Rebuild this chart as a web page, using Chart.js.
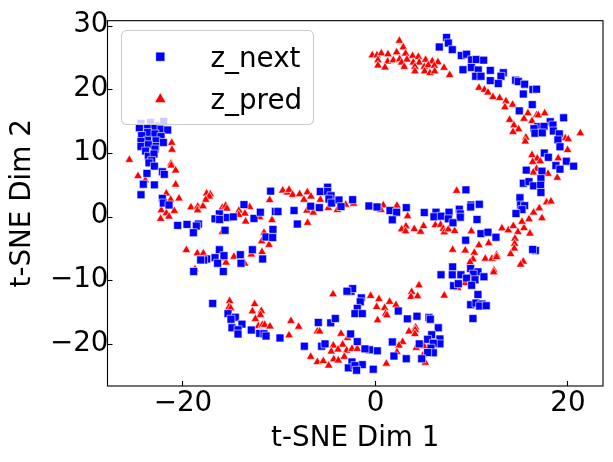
<!DOCTYPE html>
<html>
<head>
<meta charset="utf-8">
<script src="https://cdn.jsdelivr.net/npm/chart.js@4"></script>
<style>
  html, body { margin: 0; padding: 0; background: #fff; }
  canvas { display: block; }
</style>
</head>
<body>
<canvas id="chart" width="613" height="462"></canvas>
<script>
const xTickValues = [-20, 0, 20];
const yTickValues = [-20, -10, 0, 10, 20, 30];
const xTitle = 't-SNE Dim 1';
const yTitle = 't-SNE Dim 2';
const seriesNames = ['z_next', 'z_pred'];

// values
const zNext = [
  [-24.36,14.73],[-23.36,14.88],[-22.49,14.31],[-22,15.04],[-24.53,14.05],[-23.67,13.95],[-22.91,13.95],[-22.28,13.8],
  [-21.59,13.69],[-23.67,13.28],[-22.91,13.07],[-24.29,12.81],[-22.28,12.66],[-23.67,12.09],[-22.8,11.99],[-24.36,11.88],
  [-22.04,11.73],[-24.36,11.11],[-22.84,11.11],[-23.6,11.37],[-23.88,10.38],[-22.91,10.69],[-23.6,9.56],[-23.01,9.92],
  [-23.25,8.89],[-23.53,8.52],[-22.97,8.01],[-22.14,7.13],
  [-24.36,3.52],[-24.12,5.17],[-22.97,5.07],[-23.74,6.88],[-21.94,6.72],[-22.14,2.95],[-22.04,2.22],[-21.45,1.92],
  [-20.55,-1.29],[-19.58,-1.13],[-18.4,-1.08],[-18.61,-1.39],[-18.92,-2.43],[-16.22,0.52],[-16.67,-0.26],[-16.19,-0.36],
  [-15.39,-0.05],[-14.77,0.05],[-15.63,-2.06],[-13.66,1.97],[-12.62,-0.2],[-11.96,0.78],[-10.4,0.88],[-10.13,0.88],
  [-10.89,4.09],[-8.46,1.04],[-6.73,1.71],[-5.83,1.5],[-5.73,4.03],[-4.97,4.71],[-4.97,4.03],[-4.62,3.36],[-4.83,2.85],
  [-4.55,2.22],[-3.79,2.69],[-3.58,1.66],[-2.37,2.74],[-8.12,-1.08],[-10.65,-1.91],[-11.37,-3.1],[-10.68,-3.2],
  [-16.22,-5.11],[-15.74,-6.04],[-16.67,-6.35],[-17.54,-6.56],[-17.85,-6.71],[-18.16,-6.71],[-16.4,-7.23],[-15.81,-8.52],
  [-18.89,-8.52],[-14.04,-5.89],[-13.97,-7.23],[-12.79,-5.11],[-11.72,-6.56],
  [-16.91,-13.54],[-15.32,-15.14],[-14.56,-15.71],[-15.01,-16.02],[-13.87,-16.79],[-14.91,-17.36],[-14.28,-17.67],
  [-14.28,-18.34],[-12.9,-17.72],[-12.03,-18.24],[-11.58,-18.29],[-11.37,-18.65],[-9.92,-18.96],[-7.39,-20.25],
  [-5.94,-16.53],[-4.65,-16.59],[-4.17,-15.91],[-2.58,-18.34],[-5.59,-20.25],[-5.24,-19.89],[-2.44,-22.73],[-2.82,-23.66],
  [-2.54,-11.62],[-2.37,-11.21],[-2.96,-11.62],
  [7.39,28.21],[7.57,27.34],[6.63,26.72],[7.98,26.3],[8.92,25.37],[9.47,25.58],[9.99,24.7],[10.48,24.75],[11.24,24.65],
  [9.96,23.51],[9.09,23.15],[10.68,23.1],[11.93,23.05],[10.41,22.12],[10.96,22.12],[13.28,22.68],[13.04,22.12],[11.93,21.44],
  [12.76,20.98],[14.56,21.5],[14.84,21.29],[15.5,20.88],[16.36,20.05],[16.74,20.1],[15.36,19.33],[16.29,17.67],[14.94,16.69],
  [19.55,15.6],[18.16,14.98],[18.44,14.47],[16.85,14.21],[17.51,14.26],[16.47,13.9],[18.48,13.54],[19.1,13.07],[16.57,13.18],
  [17.33,13.23],[18.96,12.14],[19.17,11.06],[17.54,10.07],[17.96,9.4],[19.83,8.78],[18.75,8.11],[19.17,7.54],[20.59,8.01],
  [15.67,7.39],[17.3,7.23],
  [17.19,6.05],[15.36,5.33],[15.95,5.58],[16.43,4.91],[17.16,5.02],[17.19,3.88],[9.4,4.29],[15.01,3.05],[15.08,1.92],
  [15.5,1.81],[15.22,1.19],[14.6,0.57],[-0.68,1.76],[0.16,1.61],[1.51,1.04],[2.2,0.78],[1.75,-0.41],[3.2,1.5],[5.07,0.73],
  [6.29,0.78],[6.08,0.06],[6.84,0.16],[7.64,0.78],[8.71,1.24],[8.81,0.52],[8.81,0],[7.57,-0.26],[8.05,-0.88],[9.92,1.92],
  [9.89,1.61],[10.79,2.02],[10.55,-0.36],[10.96,-2.58],[11.69,-2.37],[12.52,-3.15],[9.37,-3.61],[16.61,-5.22],[16.33,-5.06],
  [8.02,-7.8],[6.81,-9.04],[7.98,-9.04],[8.88,-9.04],[9.89,-8.06],[10.65,-8.58],[10.16,-8.94],[9.47,-9.56],[11.27,-9.35],
  [10.34,-9.82],[8.12,-10.75],[8.61,-10.44],[9.99,-10.69],[10.65,-12.14],[9.89,-13.74],[10.44,-13.48],[11.06,-13.64],
  [10.82,-13.95],[11.51,-13.9],[10.13,-15.91],
  [-1.47,-12.66],[-1.58,-13.28],[-1.89,-14.31],[-2.13,-15.14],[-1.37,-15.14],[2.37,-14.72],[3.31,-15.96],[4.31,-15.55],
  [5.56,-15.76],[5.7,-16.02],[6.53,-17.36],[5.84,-18.45],[6.7,-19.12],[5.42,-19.17],[6.7,-19.89],[6.01,-19.79],[4.55,-19.89],
  [5.77,-20.56],[6.01,-21.29],[5.42,-21.24],[1.92,-21.8],[1.75,-19.58],[3.2,-22.22],[4.8,-22.22],[0.19,-20.98],[-0.61,-20.82],
  [-1.09,-20.67],[-1.89,-19.53],[-1.37,-23.15],[-2.13,-23.3],[-1.96,-24.03],[-0.23,-23.87]
];

const zPred = [
  [-25.57,9],[-21.17,11.68],[-21.14,10.59],[-21.24,8.42],[-21.21,8.11],[-20.76,7.34],
  [-24.67,6.46],[-23.91,5.79],[-20.76,5.12],[-21.73,3.72],[-21.28,2.74],[-20.41,2.95],[-17.54,3.72],[-17.16,3.62],
  [-17.26,3.26],[-17.64,2.74],[-19.17,1.55],[-18.47,1.66],[-18.47,1.09],[-17.92,1.71],[-22.25,1.09],[-20.9,0.99],
  [-21.73,0.62],[-21.45,0.11],[-22.32,-0.26],[-15.91,1.5],[-15.56,1.81],[-15.43,1.35],[-14.18,1.04],[-13.56,0.57],
  [-14.21,0.37],[-13.07,1.61],[-13.49,-0.67],[-12.03,0],[-15.91,-2.32],[-11.58,-2.43],[-11.82,-3.77],[-11.06,-4.34],
  [-10.75,-0.46],[-9.64,4.19],[-9.16,3.88],[-8.98,4.29],[-8.6,3.52],[-7.88,3.62],[-7.43,2.74],[-7.08,3.93],[-6.7,3.26],
  [-5.73,2.74],[-7.12,1.04],[-6.46,0.73],[-4.9,1.45],[-3.96,1.14],[-3.1,1.97],[-2.27,2.12],[-7.05,-0.88],[-10.99,2.69],
  [-19.65,-5.16],[-18.51,-5.68],[-17.88,-5.68],[-18.75,-8.16],[-15.81,-6.46],[-15.53,-7.13],[-14.7,-6.2],[-13.59,-7.28],
  [-12.9,-5.84],[-11.79,-5.47],[-15.15,-13.17],[-15.22,-14.1],[-15.04,-14.31],[-12.55,-13.64],[-12.79,-14.78],[-11.86,-14.72],
  [-11.96,-15.34],[-12.48,-15.97],[-12.17,-17.1],[-11.75,-16.9],[-11.51,-16.9],[-10.96,-17.15],[-8.78,-16.28],[-7.98,-17.2],
  [-8.98,-18.55],[-6.04,-17.93],[-5.8,-17.93],[-4.41,-12.09],[-3.58,-18.29],[-2.89,-18.96],[-4.38,-20.15],[-3.41,-20],
  [-4.59,-21.08],[-3.89,-20.77],[-2.99,-20.93],[-2.44,-20.67],[-3.24,-21.91],[-6.73,-21.91],[-6.04,-22.73],[-5.42,-22.58],
  [-4.34,-22.32],[-3.86,-22.48],[-4.86,-23.3],
  [2.48,27.7],[2.89,26.66],[-0.33,25.42],[0.16,25.42],[0.61,25.73],[1.3,25.58],[2.2,25.89],[3.13,25.68],[3.86,25.32],
  [4.45,25.17],[0.26,24.65],[0.26,23.82],[1.26,24.44],[1.85,24.65],[2.51,24.8],[3.27,24.75],[0.99,23.51],[2.72,24.29],
  [2.99,23.61],[3.93,24.29],[4.55,24.29],[4.1,23.61],[4.1,22.89],[5.21,24.7],[5.9,24.49],[6.49,24.34],[5.07,23.61],
  [5.49,23.87],[6.11,23.77],[5.11,22.89],[5.66,22.63],[6.15,22.89],[7.12,23.46],[7.71,22.32],
  [10.75,20.31],[11.31,20],[11.69,19.58],[12.21,18.86],[12.9,18.71],[13.56,18.19],[14.25,17.67],[13.45,17.26],[15.84,16.33],
  [16.74,16.02],[16.92,16.02],[17.58,16.33],[15.43,15.45],[13.94,15.29],[16.26,15.09],[14.39,14.42],[14.87,13.8],[14.29,13.38],
  [15.63,12.5],[15.56,11.88],[21.28,13.18],[19.72,12.4],[20.03,12.25],[19.96,10.54],[16.26,9.76],[16.81,9.2],[16.33,8.68],
  [17.12,8.78],[18.99,9.25],[16.74,7.59],[16.4,7.03],[17.92,6.82],[18.89,6.2],
  [8.43,4.14],[0.81,1.86],[0.57,1.14],[2.23,1.81],[3.34,0.16],[3.17,-1.44],[2.72,-1.91],[3.13,-2.22],[4.03,-1.86],[4.69,-2.27],
  [5,-1.39],[6.22,-1.24],[6.77,-1.19],[7.05,-1.81],[7.15,-2.37],[7.57,-1.91],[8.23,-2.17],[9.96,-2.22],[13.14,-1.75],[13.8,-2.06],
  [14.32,-1.39],[14.8,-2.32],[15.43,-1.7],[16.05,-2.58],[15.22,-0.72],[15.95,-0.31],[16.43,0.73],[17.02,1.4],[17.3,-0.15],
  [17.78,2.33],[18.23,2.48],[14.49,-3.36],[14.46,-4.18],[14.42,-4.91],[14.04,-5.78],[10.75,-4.39],[11.76,-4.08],[8.02,-5.11],
  [9.33,-5.22],[10.27,-5.58],[10.13,-6.61],[9.82,-7.08],[11.41,-6.51],[12.1,-6.51],[12.59,-5.94],[12.59,-6.25],[12.31,-8.32],
  [12.28,-8.63],[15.36,-6.97],[15.08,-7.44],[9.3,-10.33],[8.54,-11.11],[7.15,-12.3],[4.52,-10.69],[3.76,-11.73],[3.69,-12.5],
  [4.38,-12.4],[-0.5,-12.35],[0.36,-12.86],[1.47,-13.28],[2.13,-13.79],[0.12,-14.1],[0.95,-14.26],[1.06,-15.14],[1.19,-15.4],
  [0.22,-16.17],[4.28,-15.55],[4.17,-17.31],[4.14,-17.72],[3.48,-17.93],[4.1,-18.34],[2.82,-19.58],[2.44,-20.15],[2.23,-21.18],
  [4.24,-20.51],[5.04,-20.25],[4.93,-21.7],[5.18,-22.84],[1.13,-22.99],[-1.89,-20.67]
];

const FONT = 'DejaVu Sans';
const FONT_SIZE = 27.78;

function toPoints(rows) {
    return rows.map(r => ({ x: r[0], y: r[1] }));
}

function minusLabel(v) {
    return String(v).replace('-', '\u2212');
}

// matplotlib style legend sits on top of the points, so it is drawn after the datasets
const frameAndLegend = {
    id: 'frameAndLegend',
    afterDatasetsDraw(chart) {
        const { ctx, chartArea: a } = chart;
        ctx.save();
        ctx.strokeStyle = '#000';
        ctx.lineWidth = 1.1;
        ctx.strokeRect(a.left, a.top, a.right - a.left, a.bottom - a.top);

        ctx.beginPath();
        ctx.roundRect(121.5, 30.5, 192, 94, 5);
        ctx.fillStyle = 'rgba(255,255,255,0.8)';
        ctx.fill();
        ctx.strokeStyle = '#ccc';
        ctx.lineWidth = 1.1;
        ctx.stroke();

        const styles = [
            { pointStyle: 'rect', radius: 6.6, rotation: 0, borderWidth: 0.8, color: 'blue', y: 56.7 },
            { pointStyle: 'triangle', radius: 6.8, rotation: 0, borderWidth: 0.8, color: 'red', y: 99.3 }
        ];
        styles.forEach((s, i) => {
            ctx.fillStyle = s.color;
            ctx.strokeStyle = '#fff';
            ctx.lineWidth = s.borderWidth;
            Chart.helpers.drawPoint(ctx, s, 160.3, s.y);
            ctx.fillStyle = '#000';
            ctx.font = FONT_SIZE + 'px "' + FONT + '"';
            ctx.textBaseline = 'alphabetic';
            ctx.textAlign = 'left';
            ctx.fillText(seriesNames[i], 210.5, s.y + 10);
        });
        ctx.restore();
    }
};

function axis(ticks, title, titlePadding, tickOptions, extra) {
    return Object.assign({
        type: 'linear',
        afterBuildTicks: s => { s.ticks = ticks.map(v => ({ value: v })); },
        grid: { drawOnChartArea: false, drawTicks: true, tickLength: -5, tickWidth: 1.1, tickColor: '#000' },
        border: { display: false },
        title: { display: true, text: title, color: '#000', padding: titlePadding, font: { family: FONT, size: FONT_SIZE } },
        ticks: Object.assign({
            color: '#000',
            font: { family: FONT, size: FONT_SIZE },
            maxRotation: 0,
            autoSkip: false,
            callback: minusLabel
        }, tickOptions)
    }, extra);
}

new Chart(document.getElementById('chart'), {
    type: 'scatter',
    plugins: [frameAndLegend],
    data: {
        datasets: [
            {
                label: seriesNames[0],
                data: toPoints(zNext),
                pointStyle: 'rect',
                pointRadius: 5.6,
                backgroundColor: 'blue',
                borderColor: 'rgba(255,255,255,0.8)',
                borderWidth: 0.75
            },
            {
                label: seriesNames[1],
                data: toPoints(zPred),
                pointStyle: 'triangle',
                pointRadius: 5,
                backgroundColor: 'red',
                borderColor: 'rgba(255,255,255,0.8)',
                borderWidth: 0.75
            }
        ]
    },
    options: {
        responsive: false,
        animation: false,
        layout: { padding: { top: 16, right: 10, left: 0, bottom: 0 } },
        plugins: { legend: { display: false }, tooltip: { enabled: false } },
        scales: {
            x: axis(xTickValues, xTitle, { top: 4, bottom: 7 }, { padding: 6 }, {
                min: -27.84,
                max: 23.64,
                afterFit: s => { s.height = 76; }
            }),
            y: axis(yTickValues, yTitle, { top: 6, bottom: 4 }, { padding: 4, labelOffset: -1 }, {
                min: -26.5,
                max: 30.85,
                afterFit: s => { s.width = 107.5; }
            })
        }
    }
});
</script>
</body>
</html>
